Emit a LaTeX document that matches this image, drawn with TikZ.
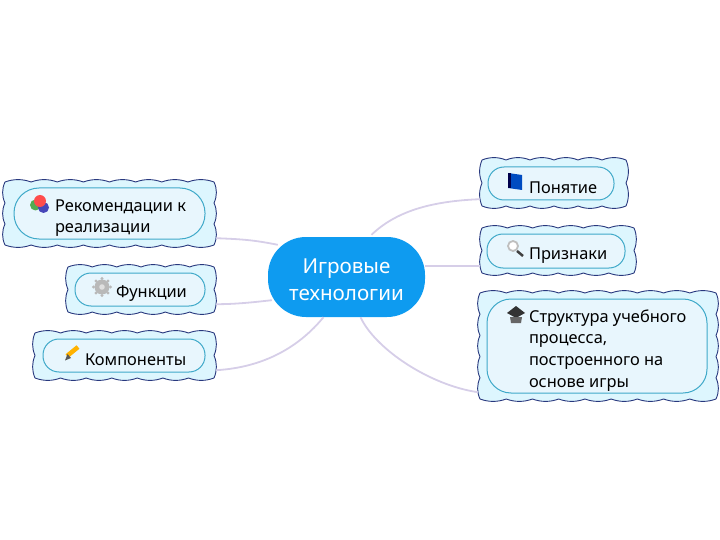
\documentclass[tikz,border=0pt]{standalone}
\usepackage{fontspec}
\setmainfont{Noto Sans}
\usetikzlibrary{calc,shapes.misc}
\definecolor{cloudfill}{HTML}{DDF6FE}
\definecolor{cloudline}{HTML}{28387E}
\definecolor{tealline}{HTML}{3FA9C9}
\definecolor{topicfill}{HTML}{E8F6FD}
\definecolor{hub}{HTML}{0E9BF0}
\definecolor{link}{HTML}{D6CEE8}
\newcommand{\topictext}[3]{\hspace*{#1pt}\raisebox{-4.5pt}[\height][\depth]{\begin{minipage}{#2pt}\raggedright\fontsize{16.4}{21.7}\selectfont #3\end{minipage}}}
% scalloped cloud: name, x1, y1, x2, y2
\newcommand{\cloudshape}[5]{%
  \pgfmathtruncatemacro{\nx}{round((#4-#2)/26)}%
  \pgfmathtruncatemacro{\ny}{round((#5-#3)/22)}%
  \pgfmathsetmacro{\dx}{(#4-#2)/\nx}%
  \pgfmathsetmacro{\dy}{(#5-#3)/\ny}%
  \pgfmathsetmacro{\qx}{\dx/3}%
  \pgfmathsetmacro{\qy}{\dy/3}%
  \draw[cloudbox] (#2,#3)
    foreach \i in {1,...,\nx}{ .. controls +(\qx,-3.2) and +(-\qx,-3.2) .. ++(\dx,0) }
    foreach \i in {1,...,\ny}{ .. controls +(3.2,\qy) and +(3.2,-\qy) .. ++(0,\dy) }
    foreach \i in {1,...,\nx}{ .. controls +(-\qx,3.2) and +(\qx,3.2) .. ++(-\dx,0) }
    foreach \i in {1,...,\ny}{ .. controls +(-3.2,-\qy) and +(-3.2,\qy) .. ++(0,-\dy) }
    -- cycle;
  \node[inner sep=0pt,minimum width={(#4-#2)*1pt},minimum height={(#5-#3)*1pt}] (#1) at ({(#2+#4)/2},{(#3+#5)/2}) {};
}
\tikzset{
 cloudbox/.style={draw=cloudline,fill=cloudfill,line width=0.9pt},
 topicbox/.style={draw=tealline,fill=topicfill,line width=1pt,inner sep=0pt,text=black},
 linkline/.style={draw=link,line width=1.8pt},
}
\begin{document}
\begin{tikzpicture}[x=1pt,y=-1pt]
\useasboundingbox (0,0) rectangle (720,540);
% clouds
\cloudshape{recC}{5}{182}{214}{245}
\cloudshape{funC}{68}{267}{214}{312}
\cloudshape{comC}{35}{333}{214}{378}
\cloudshape{ponC}{482}{160}{626}{206}
\cloudshape{priC}{482}{228}{634}{273}
\cloudshape{strC}{480}{293}{716}{399}
% topics
\node[topicbox,rounded corners=25pt,minimum width=191pt,minimum height=51pt] (rec) at (109.5,213.5)
  {\topictext{41}{150}{Рекомендации к реализации}};
\node[topicbox,rounded corners=16pt,minimum width=130pt,minimum height=33pt] (fun) at (140,289.5)
  {\topictext{41}{89}{Функции}};
\node[topicbox,rounded corners=16pt,minimum width=162pt,minimum height=33pt] (com) at (124,355.5)
  {\topictext{42}{120}{Компоненты}};
\node[topicbox,rounded corners=16pt,minimum width=126pt,minimum height=33pt] (pon) at (551,183.5)
  {\topictext{41}{85}{Понятие}};
\node[topicbox,rounded corners=16pt,minimum width=138pt,minimum height=34pt] (pri) at (556,251)
  {\topictext{42}{96}{Признаки}};
\node[topicbox,rounded corners=24pt,minimum width=220pt,minimum height=94pt] (str) at (597,346)
  {\topictext{42}{178}{Структура учебного процесса, построенного на основе игры}};
% central
\node[fill=hub,text=white,rounded corners=38pt,minimum width=157pt,minimum height=80pt,inner sep=0pt] (hubn) at (346.5,277)
  {\raisebox{-2.5pt}[\height][\depth]{\begin{minipage}{150pt}\centering\fontsize{20.6}{27.5}\selectfont Игровые\\технологии\end{minipage}}};
% connectors
\draw[linkline] ($(recC.south east)+(2,-7)$) .. controls +(25,1) and +(-25,-5) .. ($(hubn.north west)+(10,8)$);
\draw[linkline] ($(funC.south east)+(2,-8)$) .. controls +(20,0) and +(-18,2) .. ($(hubn.south west)+(4,-17)$);
\draw[linkline] ($(comC.south east)+(2,-8)$) .. controls +(50,-3) and +(-23,28) .. ($(hubn.south)+(-23,0)$);
\draw[linkline] ($(ponC.south west)+(-2,-7)$) .. controls +(-50,2) and +(24,-23) .. ($(hubn.north)+(25,-2)$);
\draw[linkline] ($(hubn.east)+(0,-11)$) -- ($(priC.west)+(-2,15.5)$);
\draw[linkline] ($(hubn.south)+(14,0)$) .. controls +(15,32) and +(-48,-7) .. ($(strC.south west)+(-2,-7)$);
% icons: balls
\fill[green!35!gray] (35.5,205) circle (5.5pt);
\fill[blue!45!gray] (43.5,207.5) circle (5.5pt);
\fill[red!70!white] (40,201) circle (6pt);
% gear
\fill[gray!55] (102,287) circle (7.5pt);
\foreach \a in {0,45,...,315}{\fill[gray!55] ($(102,287)+(\a:8.5pt)$) circle (1.6pt);}
\fill[gray!25] (102,287) circle (2.8pt);
% pencil
\draw[orange!60!yellow,line width=4.5pt] (78,347) -- (67,356);
\fill[black!65] (67.5,354) -- (65,360.5) -- (71,358) -- cycle;
% book
\fill[blue!30!black!50!blue!70!cyan] (508,173) -- (522,175) -- (522,190) -- (508,188) -- cycle;
\fill[blue!30!black] (508,173) rectangle (511,188);
% magnifier
\draw[gray!50,fill=white,line width=1.8pt] (513,246) circle (5pt);
\draw[black!75,line width=2.5pt] (517,251) -- (523,256);
% cap
\fill[black!80] (507,313) -- (516,306) -- (525,313) -- (516,318) -- cycle;
\fill[black!60] (510,317) -- (522,317) -- (521,323) -- (511,323) -- cycle;
\end{tikzpicture}
\end{document}
